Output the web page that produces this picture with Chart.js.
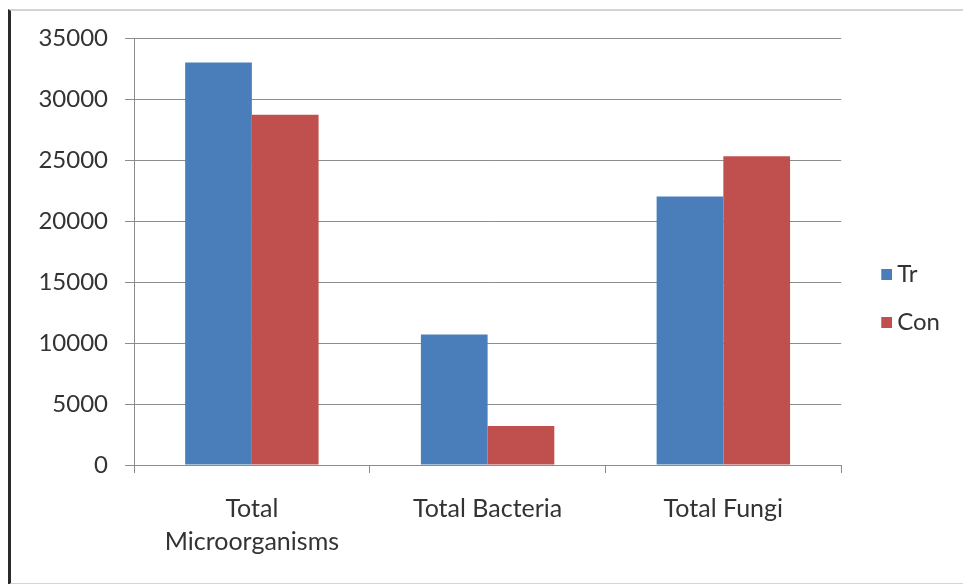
<!DOCTYPE html>
<html>
<head>
<meta charset="utf-8">
<script src="https://cdn.jsdelivr.net/npm/chart.js@4.4.1/dist/chart.umd.min.js"></script>
<style>
  html, body { margin: 0; padding: 0; background: #ffffff; }
  #wrap { position: relative; width: 963px; height: 584px; overflow: hidden; }
  #frame { position: absolute; left: 8px; top: 9px; width: 960px; height: 572px;
           border-left: 3px solid #2a2a2a; border-top: 2px solid #d4d4d4; border-bottom: 2px solid #d4d4d4; }
  #c { position: absolute; left: 0; top: 0; }
</style>
</head>
<body>
<div id="wrap">
  <div id="frame"></div>
  <canvas id="c" width="963" height="584"></canvas>
</div>
<script>
// ---- data ----
const categories = [["Total", "Microorganisms"], "Total Bacteria", "Total Fungi"];
const seriesNames = ["Tr", "Con"];
const trValues = [33000, 10700, 22000];
const conValues = [28700, 3200, 25300];
const yTicks = [0, 5000, 10000, 15000, 20000, 25000, 30000, 35000];

// ---- styles ----
const BLUE = "#4A7EBB";
const RED = "#C0504D";
const GRID = "#8c8c8c";
const TEXT = "#333333";
const FONT = "Lato, 'Open Sans', sans-serif";

function makeSwatch(color) {
  const cv = document.createElement("canvas");
  cv.width = 34; cv.height = 11;
  const g = cv.getContext("2d");
  g.fillStyle = color;
  g.fillRect(23, 0, 11, 11);
  return cv;
}

const chart = new Chart(document.getElementById("c"), {
  type: "bar",
  data: {
    labels: categories,
    datasets: [
      { label: seriesNames[0], data: trValues, backgroundColor: BLUE, borderWidth: 0 },
      { label: seriesNames[1], data: conValues, backgroundColor: RED, borderWidth: 0 }
    ]
  },
  options: {
    responsive: false,
    devicePixelRatio: 1,
    animation: false,
    layout: { padding: { top: 38, left: 0, right: 13, bottom: 26 } },
    datasets: { bar: { barPercentage: 1.0, categoryPercentage: 0.566 } },
    plugins: {
      tooltip: { enabled: false },
      legend: {
        position: "right",
        align: "center",
        labels: {
          usePointStyle: true,
          pointStyleWidth: 20,
          boxHeight: 11,
          padding: 24,
          color: TEXT,
          font: { family: FONT, size: 24 },
          generateLabels(ch) {
            const items = Chart.defaults.plugins.legend.labels.generateLabels(ch);
            items.forEach((it, i) => { it.pointStyle = makeSwatch(ch.data.datasets[i].backgroundColor); });
            return items;
          }
        }
      }
    },
    scales: {
      x: {
        offset: true,
        grid: { display: true, drawOnChartArea: false, drawTicks: true, tickLength: 8, color: GRID, offset: true },
        border: { display: true, color: GRID, width: 1 },
        ticks: { color: TEXT, font: { family: FONT, size: 25, lineHeight: 1.33 }, padding: 19, maxRotation: 0, autoSkip: false },
        afterFit(scale) { scale.height = 93; }
      },
      y: {
        min: yTicks[0],
        max: yTicks[yTicks.length - 1],
        afterBuildTicks(scale) { scale.ticks = yTicks.map(v => ({ value: v })); },
        grid: { color: GRID, lineWidth: 1, tickLength: 9, drawTicks: true },
        border: { display: true, color: GRID, width: 1 },
        ticks: { color: TEXT, font: { family: FONT, size: 24 }, padding: 17, callback: (v) => String(v) },
        afterFit(scale) { scale.width = 134; }
      }
    }
  }
});
</script>
</body>
</html>
